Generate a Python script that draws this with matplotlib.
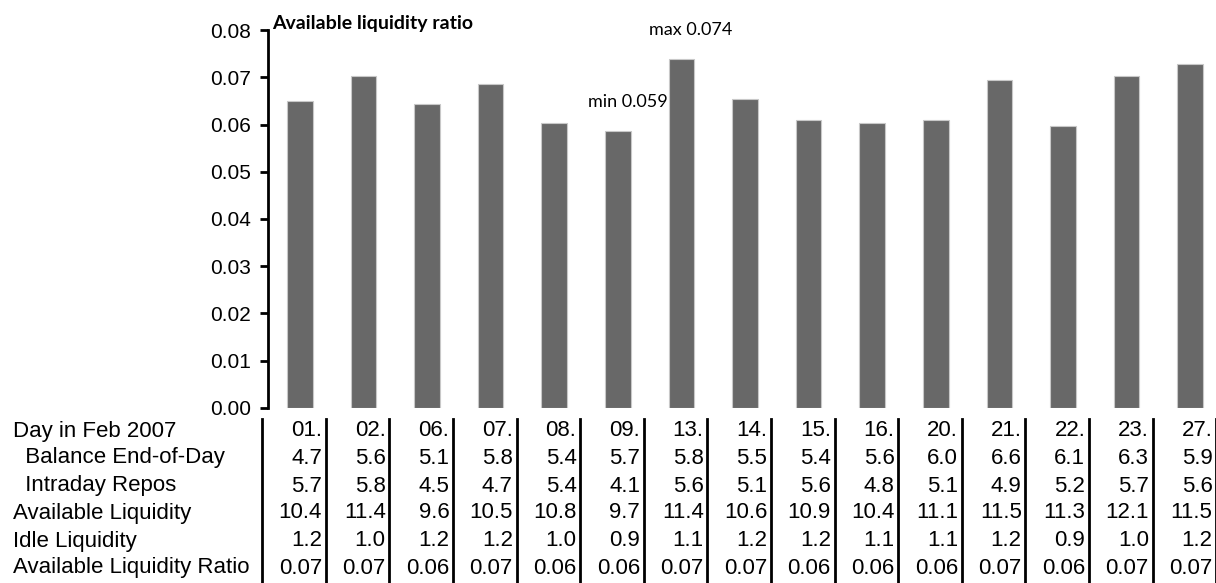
import matplotlib.pyplot as plt
from matplotlib.transforms import blended_transform_factory

days = ["01.", "02.", "06.", "07.", "08.", "09.", "13.", "14.", "15.",
        "16.", "20.", "21.", "22.", "23.", "27."]
ratio = [0.0651, 0.0703, 0.0643, 0.0686, 0.0604, 0.0586, 0.0739, 0.0655,
         0.0610, 0.0604, 0.0610, 0.0694, 0.0597, 0.0703, 0.0728]

balance_eod = [4.7, 5.6, 5.1, 5.8, 5.4, 5.7, 5.8, 5.5, 5.4, 5.6, 6.0, 6.6, 6.1, 6.3, 5.9]
intraday_repos = [5.7, 5.8, 4.5, 4.7, 5.4, 4.1, 5.6, 5.1, 5.6, 4.8, 5.1, 4.9, 5.2, 5.7, 5.6]
available_liq = [10.4, 11.4, 9.6, 10.5, 10.8, 9.7, 11.4, 10.6, 10.9, 10.4, 11.1, 11.5, 11.3, 12.1, 11.5]
idle_liq = [1.2, 1.0, 1.2, 1.2, 1.0, 0.9, 1.1, 1.2, 1.2, 1.1, 1.1, 1.2, 0.9, 1.0, 1.2]
ratio_table = [0.07, 0.07, 0.06, 0.07, 0.06, 0.06, 0.07, 0.07, 0.06, 0.06, 0.06, 0.07, 0.06, 0.07, 0.07]

row_labels = ["Day in Feb 2007", "  Balance End-of-Day", "  Intraday Repos",
              "Available Liquidity", "Idle Liquidity", "Available Liquidity Ratio"]
rows = [days,
        [f"{v:.1f}" for v in balance_eod],
        [f"{v:.1f}" for v in intraday_repos],
        [f"{v:.1f}" for v in available_liq],
        [f"{v:.1f}" for v in idle_liq],
        [f"{v:.2f}" for v in ratio_table]]

W, H = 1216, 583
fig = plt.figure(figsize=(W / 100, H / 100), dpi=100)
ax = fig.add_axes([268 / W, 1 - 407.7 / H, (1222 - 268) / W, (407.7 - 30.3) / H])

x = list(range(len(days)))
ax.bar(x, ratio, width=0.4, color="#686868", edgecolor="#c8c8c8", linewidth=0.8)

ax.set_xlim(-0.5, len(days) - 0.5)
ax.set_ylim(0, 0.08)
ax.set_yticks([i / 100 for i in range(9)])
ax.set_yticklabels([f"{i / 100:.2f}" for i in range(9)], family="Liberation Sans", fontsize=15)
ax.set_xticks([])
for s in ["top", "right", "bottom"]:
    ax.spines[s].set_visible(False)
ax.spines["left"].set_linewidth(2)
ax.tick_params(axis="y", direction="out", length=6, width=2, pad=6)

ax.text(0.004, 0.995, "Available liquidity ratio", transform=ax.transAxes,
        family="Lato", fontweight="bold", fontsize=14, va="bottom", ha="left")

# min / max labels
imin = ratio.index(min(ratio))
imax = ratio.index(max(ratio))
for i, tag in [(imin, "min"), (imax, "max")]:
    ax.annotate(f"{tag} {ratio[i]:.3f}", (i, ratio[i]), xytext=(7, 21),
                textcoords="offset points", ha="center", va="center",
                family="Lato", fontsize=13)

# data table below the axis
tr = blended_transform_factory(ax.transData, fig.transFigure)
row_y = [431, 458, 486, 513, 541, 568]
for lab, yy in zip(row_labels, row_y):
    fig.text(13 / W, 1 - yy / H, lab, family="Liberation Sans", fontsize=16,
             ha="left", va="center")
for vals, yy in zip(rows, row_y):
    for i, v in enumerate(vals):
        ax.text(i + 0.5 - 0.15, 1 - yy / H, v, transform=tr, family="Liberation Sans",
                fontsize=16, ha="right", va="center", clip_on=False)
for i in range(len(days) + 1):
    ax.plot([i - 0.5 - 0.09] * 2, [1 - 419 / H, 0], transform=tr, color="black",
            lw=2, clip_on=False)

fig.savefig("out.png", dpi=100)
